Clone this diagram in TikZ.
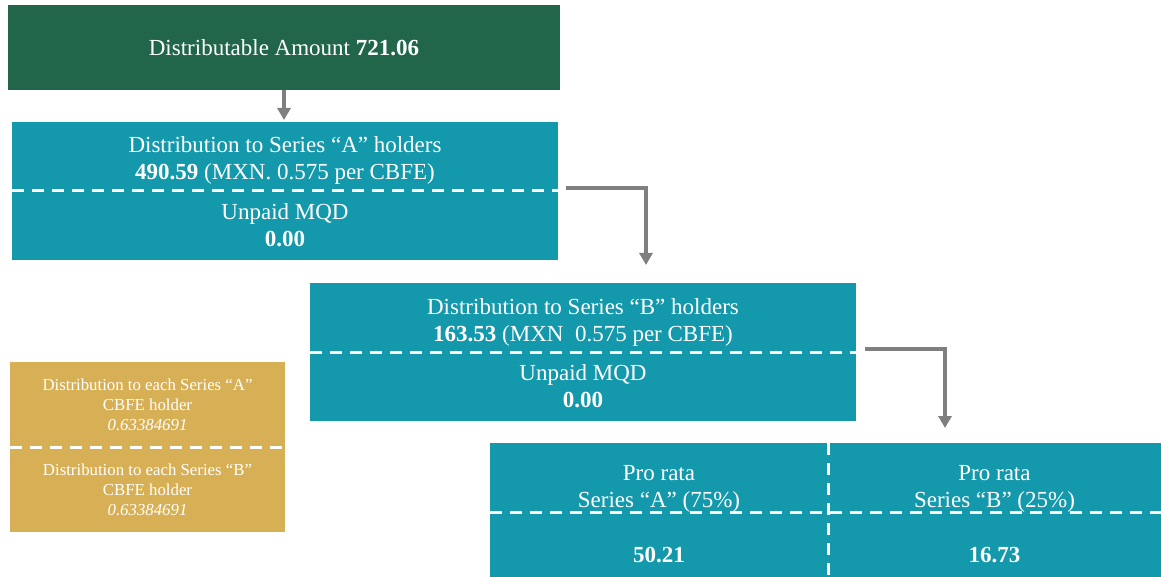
\documentclass[tikz,border=0pt]{standalone}
\usepackage{fontspec}
\setmainfont{Liberation Serif}
\usepackage{tikz}
\usetikzlibrary{arrows.meta,positioning}
\definecolor{TitleGreen}{HTML}{21664A}
\definecolor{TealBox}{HTML}{1498AB}
\definecolor{GoldBox}{HTML}{D7B056}
\definecolor{ArrowGrey}{HTML}{7F7F7F}

\begin{document}
\begin{tikzpicture}[
  x=0.5pt,y=-0.5pt,
  base/.style={inner sep=0pt,outer sep=0pt,align=center,text=white,font=\fontsize{11.5}{13.5}\selectfont},
  title/.style={base,fill=TitleGreen,minimum width=276pt,minimum height=42.5pt},
  half/.style={base,fill=TealBox,minimum width=273pt,minimum height=34.5pt},
  gold/.style={base,fill=GoldBox,minimum width=137.5pt,minimum height=42.5pt,font=\fontsize{8.4}{10}\selectfont},
  cell/.style={fill=TealBox,inner sep=0pt,outer sep=0pt,minimum width=169pt,minimum height=34.5pt},
  sep/.style={draw=white,line width=1.5pt,dash pattern=on 6pt off 4pt},
  arr/.style={-{Triangle[length=6pt,width=6.5pt]},line width=2pt,draw=ArrowGrey}
]
\useasboundingbox (0,0) rectangle (1161,577);
\node[title] (amount) at (284,47.5) {Distributable Amount \textbf{721.06}};
\node[half] (aTop) at (285,156.5) {};
\node[half,below=0pt of aTop] (aBot) {Unpaid MQD\\\textbf{0.00}};
\node[half] (bTop) at (583,317.5) {};
\node[half,below=0pt of bTop] (bBot) {Unpaid MQD\\\textbf{0.00}};
\node[base] (aText) at ([yshift=-2pt]aTop.center) {Distribution to Series “A” holders\\\textbf{490.59} (MXN. 0.575 per CBFE)};
\node[base] (bText) at ([yshift=-2.25pt]bTop.center) {Distribution to Series “B” holders\\\textbf{163.53} (MXN\ \ 0.575 per CBFE)};
\node[gold] (gA) at (147.5,404.5) {Distribution to each Series “A”\\CBFE holder\\\textit{0.63384691}};
\node[gold,below=0pt of gA] (gB) {Distribution to each Series “B”\\CBFE holder\\\textit{0.63384691}};
\node[cell] (pA) at (659,477.5) {};
\node[cell,right=0pt of pA,minimum width=166.5pt] (pB) {};
\node[cell,below=0pt of pA,minimum height=32.5pt] (vA) {};
\node[cell,below=0pt of pB,minimum width=166.5pt,minimum height=32.5pt] (vB) {};
\node[base] (pAtext) at ([yshift=-5.75pt]pA.center) {Pro rata\\Series “A” (75\%)};
\node[base] (pBtext) at ([yshift=-5.75pt]pB.center) {Pro rata\\Series “B” (25\%)};
\node[base] (vAtext) at ([yshift=-5.25pt]vA.center) {\textbf{50.21}};
\node[base] (vBtext) at ([yshift=-5.25pt]vB.center) {\textbf{16.73}};
\draw[sep] (aTop.south west) -- (aTop.south east);
\draw[sep] (bTop.south west) -- (bTop.south east);
\draw[sep] (gA.south west) -- (gA.south east);
\draw[sep] (pA.south west) -- (pB.south east);
\draw[sep] (pA.north east) -- (vA.south east);
\draw[arr,shorten >=1pt] (amount.south) -- (amount.south |- aTop.north);
\draw[arr] ([xshift=4pt,yshift=1.5pt]aTop.south east) -| ([xshift=168pt,yshift=9pt]bTop.north west);
\draw[arr] ([xshift=4.5pt,yshift=1.5pt]bTop.south east) -| ([xshift=227.5pt,yshift=7.5pt]pA.north west);
\end{tikzpicture}
\end{document}
